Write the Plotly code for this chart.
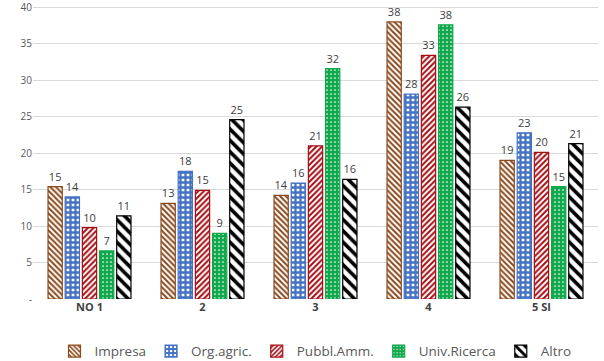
import plotly.graph_objects as go

categories = ["NO 1", "2", "3", "4", "5 SI"]
impresa = [15.4, 13.1, 14.2, 38.0, 19.0]
org_agric = [14.0, 17.5, 15.9, 28.1, 22.8]
pubbl_amm = [9.8, 14.9, 21.0, 33.4, 20.1]
univ_ricerca = [6.6, 9.0, 31.6, 37.6, 15.4]
altro = [11.4, 24.6, 16.4, 26.3, 21.3]

y_tick_step = 5
y_zero_label = "-"

series = [
    ("Impresa", impresa, dict(shape="\\", fgcolor="#8B4A1C", bgcolor="white", size=4, solidity=0.5), "#8B4A1C"),
    ("Org.agric.", org_agric, dict(shape="+", fgcolor="#4472C4", bgcolor="white", size=5, solidity=0.7), "#4472C4"),
    ("Pubbl.Amm.", pubbl_amm, dict(shape="/", fgcolor="#A50F15", bgcolor="white", size=4, solidity=0.5), "#A50F15"),
    ("Univ.Ricerca", univ_ricerca, dict(shape=".", fgcolor="white", bgcolor="#10A84C", size=4, solidity=0.15), "#10A84C"),
    ("Altro", altro, dict(shape="\\", fgcolor="black", bgcolor="white", size=8, solidity=0.45), "black"),
]

fig = go.Figure()
for name, vals, pat, lc in series:
    fig.add_trace(go.Bar(
        name=name, x=categories, y=vals,
        marker=dict(color="white", pattern=dict(fillmode="replace", **pat),
                    line=dict(color=lc, width=1.2)),
        texttemplate="%{y:.0f}", textposition="outside",
        textfont=dict(family="Open Sans", size=11, color="#404040"),
        cliponaxis=False,
    ))

fig.update_layout(
    width=604, height=361,
    margin=dict(l=33, r=6, t=0, b=62, autoexpand=False),
    barmode="group", bargap=0.24, bargroupgap=0.17,
    plot_bgcolor="white", paper_bgcolor="white",
    font=dict(family="Open Sans", size=11, color="#595959"),
    legend=dict(orientation="h", x=0.5, xanchor="center", y=-0.123, yanchor="top",
                font=dict(size=13.5, color="#595959"), traceorder="normal",
                itemwidth=30),
    showlegend=True,
)
fig.update_xaxes(showline=False, ticks="", automargin=False,
                 tickfont=dict(size=11, color="#404040", weight="bold"))
fig.update_yaxes(range=[0, 41], tickmode="linear", tick0=0, dtick=y_tick_step,
                 labelalias={0: y_zero_label}, ticklabeloverflow="allow",
                 automargin=False,
                 showgrid=True, gridcolor="#D9D9D9", gridwidth=1, zeroline=False,
                 tickfont=dict(size=10, color="#595959"), ticks="")

fig.write_html("out.html", config={"displayModeBar": False},
               post_script="document.body.style.margin='0';")
